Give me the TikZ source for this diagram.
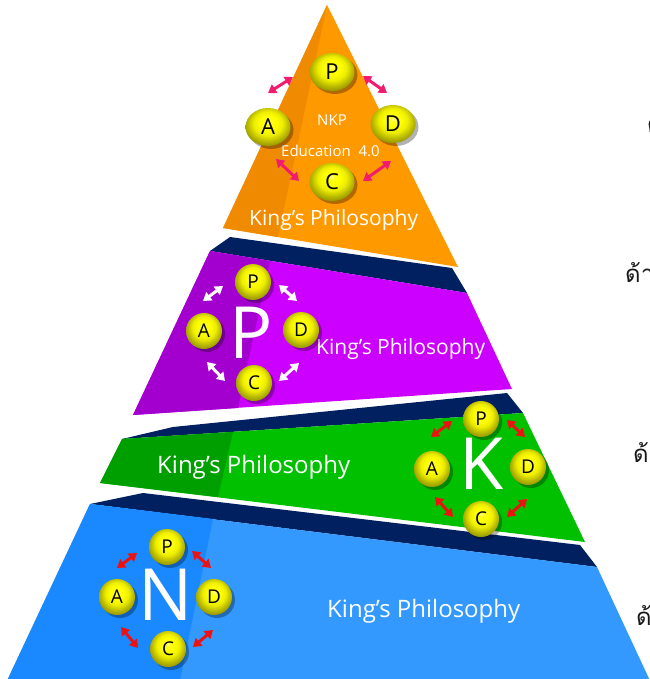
\documentclass[tikz,border=0pt]{standalone}
\usepackage{fontspec}
\setmainfont{Open Sans}
\newfontfamily\thaifont[Script=Thai]{Loma}
\usetikzlibrary{arrows.meta,shapes.geometric,shadows}
\definecolor{navyband}{HTML}{002060}
\definecolor{orangeL}{HTML}{FF9900}
\definecolor{orangeD}{HTML}{F08A00}
\definecolor{purpleL}{HTML}{CC00FF}
\definecolor{purpleD}{HTML}{A300CF}
\definecolor{greenL}{HTML}{00C000}
\definecolor{greenD}{HTML}{009F00}
\definecolor{blueL}{HTML}{3399FF}
\definecolor{blueD}{HTML}{1A88FF}
\definecolor{pinkarr}{HTML}{F21C6E}
\definecolor{redarr}{HTML}{EE1111}
\pgfdeclareradialshading{yball}{\pgfpoint{0bp}{7bp}}{%
 color(0bp)=(yellow!35!white); color(3bp)=(yellow!90!white);
 color(9bp)=(yellow); color(16bp)=(yellow!93!black);
 color(23bp)=(yellow!72!black); color(29bp)=(yellow!56!black);
 color(35bp)=(yellow!62!black); color(50bp)=(yellow!62!black)}
\newcommand\dblarrow[4]{\coordinate (#1a) at (#2); \coordinate (#1b) at (#3); \draw[arr,#4] (#1a) -- (#1b);}
\begin{document}
\begin{tikzpicture}[x=1pt,y=-1pt,
  ball/.style={circle, minimum size=36pt, inner sep=0pt, shading=yball,
    text=black, font=\fontsize{19}{19}\selectfont,
    drop shadow={shadow xshift=3pt, shadow yshift=-3pt, opacity=.3, fill=black}},
  oball/.style={ball, ellipse, minimum width=45pt, minimum height=38pt,
    font=\fontsize{22}{22}\selectfont},
  arr/.style={line width=3pt, {Triangle[length=8pt,width=10pt]}-{Triangle[length=8pt,width=10pt]}},
  bigletter/.style={text=white, inner sep=0pt, font=\fontsize{72}{72}\selectfont},
  kp/.style={text=white, inner sep=0pt, anchor=base west},
  thai/.style={text=black!90, inner sep=0pt, anchor=base west, font=\thaifont\fontsize{24}{24}\selectfont}]
\useasboundingbox (0,0) rectangle (649,679);
\clip (0,0) rectangle (649,679);
% ---- orange apex
\fill[orangeL] (327,5) -- (458,267) -- (223,228) -- cycle;
\fill[orangeD] (327,5) -- (278,237) -- (223,228) -- cycle;
% ---- purple band
\fill[navyband] (210,251) -- (230,237) -- (452,268) -- (467,293) -- cycle;
\fill[purpleL] (210,251) -- (467,293) -- (512,389) -- (133,415) -- cycle;
\fill[purpleD] (210,251) -- (270,261) -- (238,408) -- (133,415) -- cycle;
% ---- green band
\fill[navyband] (122,439) -- (173,427) -- (507,393) -- (523,413) -- cycle;
\fill[greenL] (122,439) -- (523,413) -- (585,542) -- (100,483) -- cycle;
\fill[greenD] (122,439) -- (233,432) -- (218,497) -- (100,483) -- cycle;
% ---- blue band
\fill[navyband] (90,504) -- (143,493) -- (580,545) -- (597,567) -- cycle;
\fill[blueL] (90,504) -- (597,567) -- (659,700) -- (-2,700) -- cycle;
\fill[blueD] (90,504) -- (213,519) -- (176,700) -- (-2,700) -- cycle;

% ---- orange content
\node[kp, font=\fontsize{15}{15}\selectfont, anchor=base] (nkp) at (332,126) {NKP};
\node[kp, font=\fontsize{15}{15}\selectfont] (edu) at (281,157) {Education\ \ 4.0};
\node[kp, font=\fontsize{21}{21}\selectfont] (kpo) at (249,225) {King’s Philosophy};
\node[oball] (oP) at (332,72) {P};
\node[oball] (oA) at (268,127) {A};
\node[oball] (oD) at (393,124) {D};
\node[oball] (oC) at (332,182) {C};
\dblarrow{oap}{268,93}{293,77}{pinkarr}
\dblarrow{opd}{363,76}{387,93}{pinkarr}
\dblarrow{oac}{276,159}{299,181}{pinkarr}
\dblarrow{ocd}{363,181}{391,161}{pinkarr}

% ---- purple content
\node[bigletter] (bigP) at (251,333) {P};
\node[kp, font=\fontsize{21}{21}\selectfont] (kpp) at (316,354) {King’s Philosophy};
\node[ball] (pP) at (253,282) {P};
\node[ball] (pA) at (204,331) {A};
\node[ball] (pD) at (301,330) {D};
\node[ball] (pC) at (254,383) {C};
\dblarrow{pap}{203,301}{223,286}{white}
\dblarrow{ppd}{279,285}{297,301}{white}
\dblarrow{pac}{207,362}{225,381}{white}
\dblarrow{pcd}{279,381}{299,363}{white}

% ---- green content
\node[bigletter] (bigK) at (482,464) {K};
\node[kp, font=\fontsize{24}{24}\selectfont] (kpg) at (157,473) {King’s Philosophy};
\node[ball] (gP) at (481,419) {P};
\node[ball] (gA) at (432,469) {A};
\node[ball] (gD) at (528,467) {D};
\node[ball] (gC) at (481,519) {C};
\dblarrow{gap}{431,437}{452,421}{redarr}
\dblarrow{gpd}{507,420}{525,437}{redarr}
\dblarrow{gac}{435,497}{453,517}{redarr}
\dblarrow{gcd}{507,517}{527,499}{redarr}

% ---- blue content
\node[bigletter] (bigN) at (166,595) {N};
\node[kp, font=\fontsize{24}{24}\selectfont] (kpb) at (327,617) {King’s Philosophy};
\node[ball] (bP) at (167,547) {P};
\node[ball] (bA) at (117,597) {A};
\node[ball] (bD) at (214,597) {D};
\node[ball] (bC) at (168,649) {C};
\dblarrow{bap}{117,568}{137,553}{redarr}
\dblarrow{bpd}{192,551}{211,568}{redarr}
\dblarrow{bac}{121,627}{138,648}{redarr}
\dblarrow{bcd}{193,647}{213,630}{redarr}

% ---- Thai labels, cut by the right edge as in the reference
\node[thai] (t1) at (647,133) {ด้าน};
\node[thai] (t2) at (625,282) {ด้าน};
\node[thai] (t3) at (633,462) {ด้าน};
\node[thai] (t4) at (636,625) {ด้าน};
\end{tikzpicture}
\end{document}
